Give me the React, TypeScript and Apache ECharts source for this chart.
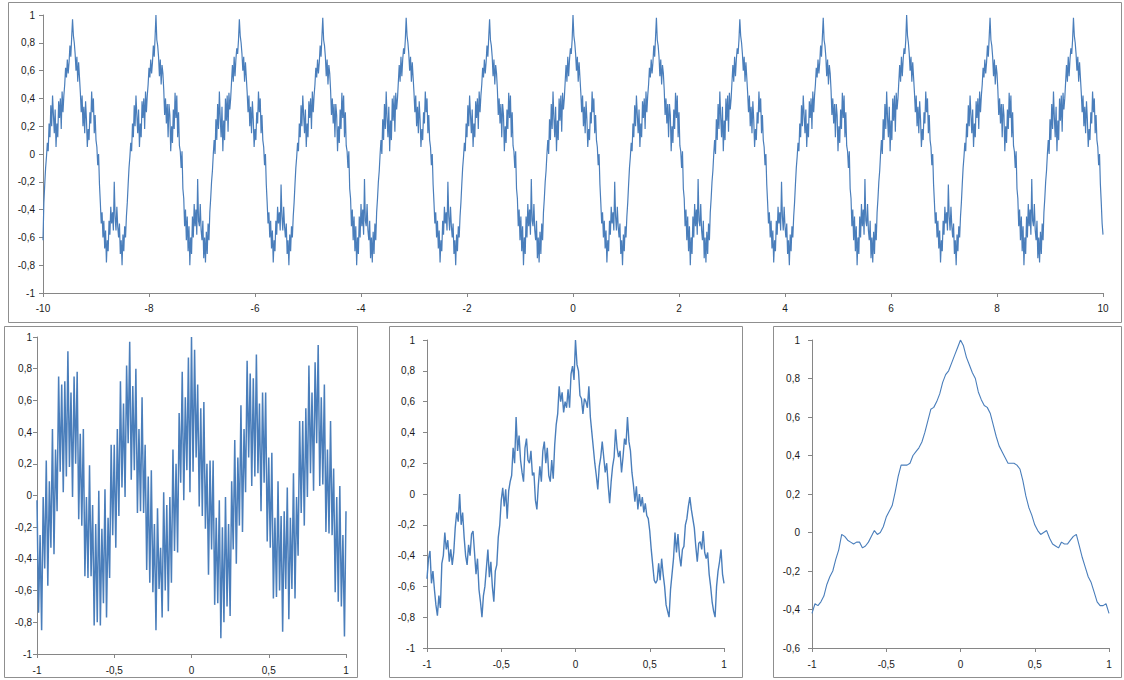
import React, { useEffect, useRef } from "react";
import * as echarts from "echarts";

// ---------- top panel: x from -10 to 10, 1221 samples ----------
const TOP_X_START = -10;
const TOP_X_END = 10;
const TOP_X_TICKS = [-10, -8, -6, -4, -2, 0, 2, 4, 6, 8, 10];
const TOP_Y = [
  -0.62, -0.35, -0.22, -0.10, -0.02, 0.08, 0.02, 0.22, 0.12, 0.35, 0.20, 0.42, 0.28, 0.15, 0.32, 0.05, 0.22, 0.12, 0.38, 0.26, 0.40, 0.18, 0.45, 0.30, 0.42, 0.50, 0.62, 0.55, 0.68, 0.58, 0.66, 0.78, 0.70, 0.84,
  0.97, 0.85, 0.80, 0.72, 0.60, 0.70, 0.52, 0.66, 0.55, 0.44, 0.30, 0.42, 0.20, 0.34, 0.15, 0.38, 0.25, 0.05, 0.18, 0.10, 0.30, 0.22, 0.45, 0.30, 0.40, 0.15, 0.28, 0.10, 0.05, -0.08, 0.00, -0.22, -0.35, -0.50, -0.42, -0.60, -0.48, -0.68, -0.55, -0.78, -0.62, -0.70, -0.48, -0.58, -0.38, -0.50, -0.42, -0.55, -0.20, -0.45, -0.55, -0.38, -0.52, -0.60, -0.50, -0.72, -0.62, -0.80, -0.58, -0.70, -0.52, -0.60, -0.45, -0.35, -0.22, -0.10, -0.02, 0.08, 0.02, 0.22, 0.12, 0.35, 0.20, 0.42, 0.28, 0.15, 0.32, 0.05, 0.22, 0.12, 0.38, 0.26, 0.40, 0.18, 0.45, 0.30, 0.42, 0.50, 0.62, 0.55, 0.68, 0.58, 0.66, 0.78, 0.70, 0.84,
  1.00, 0.82, 0.78, 0.70, 0.56, 0.68, 0.50, 0.64, 0.58, 0.46, 0.28, 0.40, 0.22, 0.36, 0.12, 0.36, 0.28, 0.02, 0.20, 0.08, 0.32, 0.18, 0.44, 0.26, 0.42, 0.12, 0.30, 0.06, 0.02, -0.10, 0.02, -0.25, -0.32, -0.52, -0.40, -0.62, -0.45, -0.70, -0.52, -0.80, -0.60, -0.72, -0.45, -0.60, -0.36, -0.52, -0.40, -0.58, -0.18, -0.48, -0.52, -0.36, -0.55, -0.62, -0.48, -0.75, -0.60, -0.78, -0.56, -0.72, -0.50, -0.62, -0.42, -0.32, -0.20, -0.12, 0.00, 0.10, 0.00, 0.25, 0.10, 0.36, 0.18, 0.45, 0.26, 0.12, 0.34, 0.02, 0.24, 0.10, 0.40, 0.24, 0.42, 0.16, 0.44, 0.32, 0.40, 0.52, 0.64, 0.52, 0.70, 0.56, 0.68, 0.76, 0.72, 0.82,
  0.97, 0.85, 0.80, 0.72, 0.60, 0.70, 0.52, 0.66, 0.55, 0.44, 0.30, 0.42, 0.20, 0.34, 0.15, 0.38, 0.25, 0.05, 0.18, 0.10, 0.30, 0.22, 0.45, 0.30, 0.40, 0.15, 0.28, 0.10, 0.05, -0.08, 0.00, -0.22, -0.35, -0.50, -0.42, -0.60, -0.48, -0.68, -0.55, -0.78, -0.62, -0.70, -0.48, -0.58, -0.38, -0.50, -0.42, -0.55, -0.22, -0.45, -0.55, -0.38, -0.52, -0.60, -0.50, -0.72, -0.62, -0.80, -0.58, -0.70, -0.52, -0.60, -0.45, -0.35, -0.22, -0.10, -0.02, 0.08, 0.02, 0.22, 0.12, 0.35, 0.20, 0.42, 0.28, 0.15, 0.32, 0.05, 0.22, 0.12, 0.38, 0.26, 0.40, 0.18, 0.45, 0.30, 0.42, 0.50, 0.62, 0.55, 0.68, 0.58, 0.66, 0.78, 0.70, 0.84,
  0.98, 0.82, 0.78, 0.70, 0.56, 0.68, 0.50, 0.64, 0.58, 0.46, 0.28, 0.40, 0.22, 0.36, 0.12, 0.36, 0.28, 0.02, 0.20, 0.08, 0.32, 0.18, 0.44, 0.26, 0.42, 0.12, 0.30, 0.06, 0.02, -0.10, 0.02, -0.25, -0.32, -0.52, -0.40, -0.62, -0.45, -0.70, -0.52, -0.80, -0.60, -0.72, -0.45, -0.60, -0.36, -0.52, -0.40, -0.58, -0.18, -0.48, -0.52, -0.36, -0.55, -0.62, -0.48, -0.75, -0.60, -0.78, -0.56, -0.72, -0.50, -0.62, -0.42, -0.32, -0.20, -0.12, 0.00, 0.10, 0.00, 0.25, 0.10, 0.36, 0.18, 0.45, 0.26, 0.12, 0.34, 0.02, 0.24, 0.10, 0.40, 0.24, 0.42, 0.16, 0.44, 0.32, 0.40, 0.52, 0.64, 0.52, 0.70, 0.56, 0.68, 0.76, 0.72, 0.82,
  0.98, 0.85, 0.80, 0.72, 0.60, 0.70, 0.52, 0.66, 0.55, 0.44, 0.30, 0.42, 0.20, 0.34, 0.15, 0.38, 0.25, 0.05, 0.18, 0.10, 0.30, 0.22, 0.45, 0.30, 0.40, 0.15, 0.28, 0.10, 0.05, -0.08, 0.00, -0.22, -0.35, -0.50, -0.42, -0.60, -0.48, -0.68, -0.55, -0.78, -0.62, -0.70, -0.48, -0.58, -0.38, -0.50, -0.42, -0.55, -0.20, -0.45, -0.55, -0.38, -0.52, -0.60, -0.50, -0.72, -0.62, -0.80, -0.58, -0.70, -0.52, -0.60, -0.45, -0.35, -0.22, -0.10, -0.02, 0.08, 0.02, 0.22, 0.12, 0.35, 0.20, 0.42, 0.28, 0.15, 0.32, 0.05, 0.22, 0.12, 0.38, 0.26, 0.40, 0.18, 0.45, 0.30, 0.42, 0.50, 0.62, 0.55, 0.68, 0.58, 0.66, 0.78, 0.70, 0.84,
  0.97, 0.82, 0.78, 0.70, 0.56, 0.68, 0.50, 0.64, 0.58, 0.46, 0.28, 0.40, 0.22, 0.36, 0.12, 0.36, 0.28, 0.02, 0.20, 0.08, 0.32, 0.18, 0.44, 0.26, 0.42, 0.12, 0.30, 0.06, 0.02, -0.10, 0.02, -0.25, -0.32, -0.52, -0.40, -0.62, -0.45, -0.70, -0.52, -0.80, -0.60, -0.72, -0.45, -0.60, -0.36, -0.52, -0.40, -0.58, -0.18, -0.48, -0.52, -0.36, -0.55, -0.62, -0.48, -0.75, -0.60, -0.78, -0.56, -0.72, -0.50, -0.62, -0.42, -0.32, -0.20, -0.12, 0.00, 0.10, 0.00, 0.25, 0.10, 0.36, 0.18, 0.45, 0.26, 0.12, 0.34, 0.02, 0.24, 0.10, 0.40, 0.24, 0.42, 0.16, 0.44, 0.32, 0.40, 0.52, 0.64, 0.52, 0.70, 0.56, 0.68, 0.76, 0.72, 0.82,
  1.00, 0.85, 0.80, 0.72, 0.60, 0.70, 0.52, 0.66, 0.55, 0.44, 0.30, 0.42, 0.20, 0.34, 0.15, 0.38, 0.25, 0.05, 0.18, 0.10, 0.30, 0.22, 0.45, 0.30, 0.40, 0.15, 0.28, 0.10, 0.05, -0.08, 0.00, -0.22, -0.35, -0.50, -0.42, -0.60, -0.48, -0.68, -0.55, -0.78, -0.62, -0.70, -0.48, -0.58, -0.38, -0.50, -0.42, -0.55, -0.20, -0.45, -0.55, -0.38, -0.52, -0.60, -0.50, -0.72, -0.62, -0.80, -0.58, -0.70, -0.52, -0.60, -0.45, -0.35, -0.22, -0.10, -0.02, 0.08, 0.02, 0.22, 0.12, 0.35, 0.20, 0.42, 0.28, 0.15, 0.32, 0.05, 0.22, 0.12, 0.38, 0.26, 0.40, 0.18, 0.45, 0.30, 0.42, 0.50, 0.62, 0.55, 0.68, 0.58, 0.66, 0.78, 0.70, 0.84,
  0.98, 0.82, 0.78, 0.70, 0.56, 0.68, 0.50, 0.64, 0.58, 0.46, 0.28, 0.40, 0.22, 0.36, 0.12, 0.36, 0.28, 0.02, 0.20, 0.08, 0.32, 0.18, 0.44, 0.26, 0.42, 0.12, 0.30, 0.06, 0.02, -0.10, 0.02, -0.25, -0.32, -0.52, -0.40, -0.62, -0.45, -0.70, -0.52, -0.80, -0.60, -0.72, -0.45, -0.60, -0.36, -0.52, -0.40, -0.58, -0.18, -0.48, -0.52, -0.36, -0.55, -0.62, -0.48, -0.75, -0.60, -0.78, -0.56, -0.72, -0.50, -0.62, -0.42, -0.32, -0.20, -0.12, 0.00, 0.10, 0.00, 0.25, 0.10, 0.36, 0.18, 0.45, 0.26, 0.12, 0.34, 0.02, 0.24, 0.10, 0.40, 0.24, 0.42, 0.16, 0.44, 0.32, 0.40, 0.52, 0.64, 0.52, 0.70, 0.56, 0.68, 0.76, 0.72, 0.82,
  0.97, 0.85, 0.80, 0.72, 0.60, 0.70, 0.52, 0.66, 0.55, 0.44, 0.30, 0.42, 0.20, 0.34, 0.15, 0.38, 0.25, 0.05, 0.18, 0.10, 0.30, 0.22, 0.45, 0.30, 0.40, 0.15, 0.28, 0.10, 0.05, -0.08, 0.00, -0.22, -0.35, -0.50, -0.42, -0.60, -0.48, -0.68, -0.55, -0.78, -0.62, -0.70, -0.48, -0.58, -0.38, -0.50, -0.42, -0.55, -0.20, -0.45, -0.55, -0.38, -0.52, -0.60, -0.50, -0.72, -0.62, -0.80, -0.58, -0.70, -0.52, -0.60, -0.45, -0.35, -0.22, -0.10, -0.02, 0.08, 0.02, 0.22, 0.12, 0.35, 0.20, 0.42, 0.28, 0.15, 0.32, 0.05, 0.22, 0.12, 0.38, 0.26, 0.40, 0.18, 0.45, 0.30, 0.42, 0.50, 0.62, 0.55, 0.68, 0.58, 0.66, 0.78, 0.70, 0.84,
  0.98, 0.82, 0.78, 0.70, 0.56, 0.68, 0.50, 0.64, 0.58, 0.46, 0.28, 0.40, 0.22, 0.36, 0.12, 0.36, 0.28, 0.02, 0.20, 0.08, 0.32, 0.18, 0.44, 0.26, 0.42, 0.12, 0.30, 0.06, 0.02, -0.10, 0.02, -0.25, -0.32, -0.52, -0.40, -0.62, -0.45, -0.70, -0.52, -0.80, -0.60, -0.72, -0.45, -0.60, -0.36, -0.52, -0.40, -0.58, -0.18, -0.48, -0.52, -0.36, -0.55, -0.62, -0.48, -0.75, -0.60, -0.78, -0.56, -0.72, -0.50, -0.62, -0.42, -0.32, -0.20, -0.12, 0.00, 0.10, 0.00, 0.25, 0.10, 0.36, 0.18, 0.45, 0.26, 0.12, 0.34, 0.02, 0.24, 0.10, 0.40, 0.24, 0.42, 0.16, 0.44, 0.32, 0.40, 0.52, 0.64, 0.52, 0.70, 0.56, 0.68, 0.76, 0.72, 0.82,
  1.00, 0.85, 0.80, 0.72, 0.60, 0.70, 0.52, 0.66, 0.55, 0.44, 0.30, 0.42, 0.20, 0.34, 0.15, 0.38, 0.25, 0.05, 0.18, 0.10, 0.30, 0.22, 0.45, 0.30, 0.40, 0.15, 0.28, 0.10, 0.05, -0.08, 0.00, -0.22, -0.35, -0.50, -0.42, -0.60, -0.48, -0.68, -0.55, -0.78, -0.62, -0.70, -0.48, -0.58, -0.38, -0.50, -0.42, -0.55, -0.22, -0.45, -0.55, -0.38, -0.52, -0.60, -0.50, -0.72, -0.62, -0.80, -0.58, -0.70, -0.52, -0.60, -0.45, -0.35, -0.22, -0.10, -0.02, 0.08, 0.02, 0.22, 0.12, 0.35, 0.20, 0.42, 0.28, 0.15, 0.32, 0.05, 0.22, 0.12, 0.38, 0.26, 0.40, 0.18, 0.45, 0.30, 0.42, 0.50, 0.62, 0.55, 0.68, 0.58, 0.66, 0.78, 0.70, 0.84,
  0.98, 0.82, 0.78, 0.70, 0.56, 0.68, 0.50, 0.64, 0.58, 0.46, 0.28, 0.40, 0.22, 0.36, 0.12, 0.36, 0.28, 0.02, 0.20, 0.08, 0.32, 0.18, 0.44, 0.26, 0.42, 0.12, 0.30, 0.06, 0.02, -0.10, 0.02, -0.25, -0.32, -0.52, -0.40, -0.62, -0.45, -0.70, -0.52, -0.80, -0.60, -0.72, -0.45, -0.60, -0.36, -0.52, -0.40, -0.58, -0.18, -0.48, -0.52, -0.36, -0.55, -0.62, -0.48, -0.75, -0.60, -0.78, -0.56, -0.72, -0.50, -0.62, -0.42, -0.32, -0.20, -0.12, 0.00, 0.10, 0.00, 0.25, 0.10, 0.36, 0.18, 0.45, 0.26, 0.12, 0.34, 0.02, 0.24, 0.10, 0.40, 0.24, 0.42, 0.16, 0.44, 0.32, 0.40, 0.52, 0.64, 0.52, 0.70, 0.56, 0.68, 0.76, 0.72, 0.82,
  0.98, 0.85, 0.80, 0.72, 0.60, 0.70, 0.52, 0.66, 0.55, 0.44, 0.30, 0.42, 0.20, 0.34, 0.15, 0.38, 0.25, 0.05, 0.18, 0.10, 0.30, 0.22, 0.45, 0.30, 0.40, 0.15, 0.28, 0.10, 0.05, -0.08, 0.00, -0.22, -0.35, -0.50, -0.58,
];

// ---------- bottom-left panel: x from -1 to 1, step 0.01 ----------
const BL_X_START = -1;
const BL_X_STEP = 0.01;
const BL_Y = [
  -0.03, -0.74, -0.25, -0.85, -0.01, -0.46, 0.22, -0.57, 0.09, -0.33, 0.42, -0.37, 0.29, -0.10, 0.75, 0.15, 0.70, 0.02, 0.72, 0.12,
  0.91, 0.18, 0.65, -0.01, 0.75, 0.20, 0.78, -0.15, 0.39, -0.19, 0.42, -0.51, -0.01, -0.52, 0.19, -0.51, -0.06, -0.82, -0.18, -0.80,
  0.03, -0.82, -0.21, -0.68, 0.04, -0.77, -0.14, -0.52, 0.32, -0.25, 0.32, -0.33, 0.42, -0.13, 0.72, 0.05, 0.58, -0.01, 0.82, 0.33,
  0.97, 0.10, 0.69, 0.16, 0.80, -0.11, 0.42, -0.10, 0.62, -0.11, 0.32, -0.47, 0.12, -0.55, 0.16, -0.61, -0.18, -0.85, -0.08, -0.59,
  -0.33, -0.77, 0.02, -0.60, -0.06, -0.73, -0.01, -0.55, 0.29, -0.35, 0.20, -0.36, 0.52, 0.08, 0.78, -0.03, 0.62, 0.16, 0.87, 0.02,
  1.00, 0.15, 0.92, 0.24, 0.70, -0.07, 0.55, -0.13, 0.59, -0.21, 0.20, -0.50, 0.22, -0.34, 0.22, -0.69, -0.14, -0.68, -0.03, -0.90,
  -0.20, -0.80, -0.01, -0.70, -0.18, -0.76, 0.09, -0.34, 0.35, -0.43, 0.24, -0.19, 0.57, -0.23, 0.42, 0.02, 0.85, 0.24, 0.77, 0.06,
  0.74, 0.12, 0.89, 0.14, 0.58, -0.10, 0.65, 0.08, 0.65, -0.29, 0.24, -0.33, 0.27, -0.65, -0.14, -0.64, 0.09, -0.60, -0.13, -0.86,
  -0.10, -0.59, 0.05, -0.78, -0.14, -0.59, 0.14, -0.65, -0.01, -0.38, 0.47, -0.11, 0.47, -0.19, 0.55, -0.01, 0.82, 0.14, 0.65, 0.03,
  0.84, 0.33, 0.95, 0.06, 0.62, 0.07, 0.70, -0.23, 0.29, -0.24, 0.47, -0.25, 0.17, -0.61, -0.01, -0.67, 0.06, -0.70, -0.25, -0.89,
  -0.10,
];

// ---------- bottom-middle panel: x from -1 to 1, step 0.01 ----------
const BM_X_START = -1;
const BM_X_STEP = 0.01;
const BM_Y = [
  -0.55, -0.42, -0.37, -0.58, -0.50, -0.62, -0.72, -0.79, -0.66, -0.74,
  -0.45, -0.40, -0.25, -0.36, -0.30, -0.44, -0.36, -0.46, -0.38, -0.22,
  -0.12, -0.18, 0.00, -0.20, -0.12, -0.28, -0.40, -0.46, -0.33, -0.40,
  -0.26, -0.24, -0.38, -0.52, -0.42, -0.62, -0.70, -0.80, -0.66, -0.60,
  -0.48, -0.36, -0.54, -0.44, -0.60, -0.70, -0.50, -0.46, -0.28, -0.20,
  -0.04, 0.04, -0.08, 0.03, -0.16, 0.02, 0.08, 0.12, 0.30, 0.20,
  0.50, 0.28, 0.38, 0.22, 0.14, 0.08, 0.30, 0.36, 0.22, 0.20,
  0.28, 0.12, 0.14, -0.04, -0.10, 0.06, 0.18, 0.08, 0.28, 0.34,
  0.20, 0.30, 0.12, 0.08, 0.22, 0.10, 0.32, 0.45, 0.52, 0.70,
  0.60, 0.66, 0.53, 0.60, 0.56, 0.68, 0.56, 0.78, 0.83, 0.74,
  1.00,
  0.84, 0.80, 0.64, 0.62, 0.52, 0.62, 0.60, 0.56, 0.70, 0.50,
  0.40, 0.30, 0.20, 0.12, 0.03, 0.18, 0.24, 0.34, 0.24, 0.14,
  0.20, 0.06, -0.06, 0.08, 0.18, 0.24, 0.42, 0.30, 0.24, 0.28,
  0.14, 0.24, 0.36, 0.32, 0.50, 0.34, 0.28, 0.14, 0.06, -0.05,
  0.05, -0.10, 0.00, -0.08, -0.02, -0.12, -0.06, -0.14, -0.16, -0.24,
  -0.36, -0.46, -0.56, -0.58, -0.56, -0.45, -0.56, -0.42, -0.52, -0.60,
  -0.72, -0.76, -0.80, -0.62, -0.52, -0.42, -0.25, -0.38, -0.26, -0.40,
  -0.47, -0.36, -0.34, -0.20, -0.16, -0.08, -0.02, -0.10, -0.16, -0.22,
  -0.34, -0.44, -0.32, -0.31, -0.36, -0.24, -0.38, -0.42, -0.38, -0.52,
  -0.60, -0.70, -0.76, -0.80, -0.60, -0.50, -0.44, -0.36, -0.52, -0.58,
];

// ---------- bottom-right panel: x from -1 to 1, step 0.02 ----------
const BR_X_START = -1;
const BR_X_STEP = 0.02;
const BR_Y = [
  -0.42, -0.37, -0.38, -0.36, -0.33, -0.27, -0.23, -0.20, -0.14, -0.09,
  -0.01, -0.02, -0.04, -0.05, -0.06, -0.05, -0.05, -0.08, -0.07, -0.05,
  -0.02, 0.01, -0.01, 0.00, 0.03, 0.08, 0.11, 0.14, 0.21, 0.29,
  0.35, 0.35, 0.35, 0.36, 0.40, 0.42, 0.44, 0.47, 0.52, 0.58,
  0.64, 0.65, 0.68, 0.72, 0.78, 0.82, 0.84, 0.88, 0.92, 0.96,
  1.00,
  0.97, 0.91, 0.87, 0.83, 0.80, 0.73, 0.69, 0.66, 0.65, 0.62,
  0.56, 0.50, 0.45, 0.42, 0.39, 0.36, 0.36, 0.36, 0.35, 0.33,
  0.27, 0.19, 0.13, 0.09, 0.04, 0.01, -0.01, 0.00, 0.01, -0.03,
  -0.06, -0.07, -0.08, -0.05, -0.06, -0.06, -0.04, -0.02, -0.01, -0.07,
  -0.13, -0.18, -0.23, -0.26, -0.31, -0.36, -0.38, -0.38, -0.37, -0.42,
];

const BOTTOM_X_TICKS = [-1, -0.5, 0, 0.5, 1];

const LINE_COLOR = "#4A7EBB";
const AXIS_COLOR = "#868686";
const FONT = "'Liberation Sans', Arial, sans-serif";

function toPairs(start: number, step: number, ys: number[]) {
  return ys.map((y, i) => [start + i * step, y]);
}

const fmt = (v: number) => String(Math.round(v * 10) / 10).replace(".", ",");

function axisBase(grid: number, min: number, max: number, interval: number, margin: number) {
  return {
    type: "value",
    gridIndex: grid,
    min,
    max,
    interval,
    axisLine: { show: true, onZero: false, lineStyle: { color: AXIS_COLOR, width: 1 } },
    axisTick: { show: true, inside: false, length: 4, lineStyle: { color: AXIS_COLOR } },
    axisLabel: { color: "#1a1a1a", fontSize: 10, fontFamily: FONT, margin, formatter: fmt, hideOverlap: false, showMinLabel: true, showMaxLabel: true },
    splitLine: { show: false },
  };
}

function lineSeries(idx: number, data: number[][], width: number) {
  return {
    type: "line",
    xAxisIndex: idx,
    yAxisIndex: idx,
    data,
    showSymbol: false,
    symbol: "none",
    smooth: false,
    lineStyle: { color: LINE_COLOR, width },
    emphasis: { disabled: true },
  };
}

function frame(x: number, y: number, w: number, h: number) {
  return {
    type: "rect",
    silent: true,
    shape: { x, y, width: w, height: h },
    style: { fill: "none", stroke: "#8f8f8f", lineWidth: 1 },
    z: 100,
  };
}

export default function App() {
  const ref = useRef<HTMLDivElement>(null);

  useEffect(() => {
    if (!ref.current) return;
    const chart = echarts.init(ref.current, undefined, { renderer: "svg" });
    const topStep = (TOP_X_END - TOP_X_START) / (TOP_Y.length - 1);
    chart.setOption({
      animation: false,
      backgroundColor: "#ffffff",
      grid: [
        { left: 43, top: 15, width: 1060, height: 278 },
        { left: 37, top: 337, width: 309, height: 317 },
        { left: 427, top: 340, width: 297, height: 308 },
        { left: 812, top: 340, width: 297, height: 308 },
      ],
      xAxis: [
        axisBase(0, TOP_X_TICKS[0], TOP_X_TICKS[TOP_X_TICKS.length - 1], 2, 10),
        axisBase(1, BOTTOM_X_TICKS[0], BOTTOM_X_TICKS[4], 0.5, 11),
        axisBase(2, BOTTOM_X_TICKS[0], BOTTOM_X_TICKS[4], 0.5, 11),
        axisBase(3, BOTTOM_X_TICKS[0], BOTTOM_X_TICKS[4], 0.5, 11),
      ],
      yAxis: [
        axisBase(0, -1, 1, 0.2, 8),
        axisBase(1, -1, 1, 0.2, 5),
        axisBase(2, -1, 1, 0.2, 12),
        axisBase(3, -0.6, 1, 0.2, 12),
      ],
      series: [
        lineSeries(0, toPairs(TOP_X_START, topStep, TOP_Y), 1.2),
        lineSeries(1, toPairs(BL_X_START, BL_X_STEP, BL_Y), 1.5),
        lineSeries(2, toPairs(BM_X_START, BM_X_STEP, BM_Y), 1.4),
        lineSeries(3, toPairs(BR_X_START, BR_X_STEP, BR_Y), 1.1),
      ],
      graphic: [
        frame(8.5, 2.5, 1113, 320),
        frame(4.5, 326.5, 353, 351),
        frame(389.5, 326.5, 353, 351),
        frame(773.5, 326.5, 348, 351),
      ],
    });
    return () => chart.dispose();
  }, []);

  return (
    <div
      ref={ref}
      style={{ position: "fixed", left: 0, top: 0, width: 1124, height: 680, background: "#fff" }}
    />
  );
}
